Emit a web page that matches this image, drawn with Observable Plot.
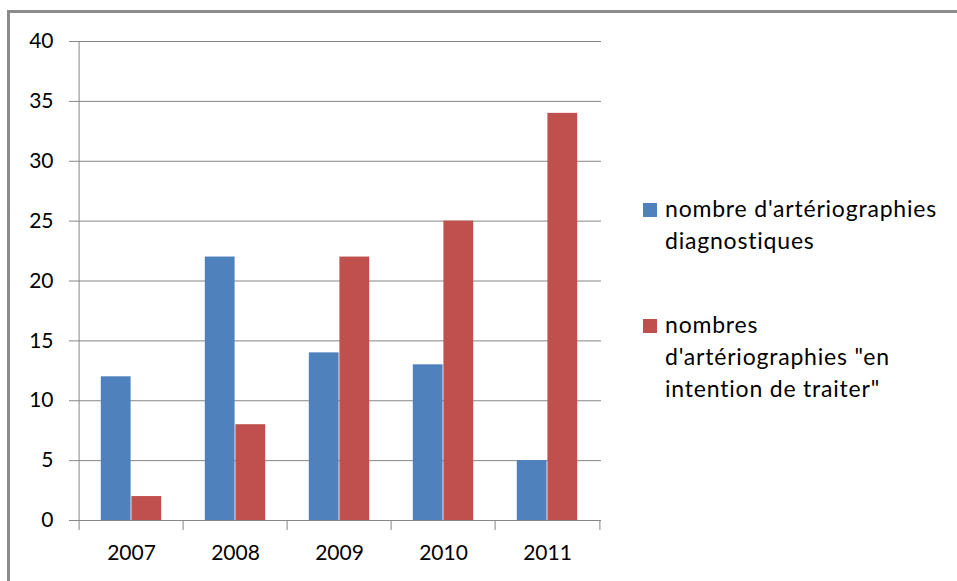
<!DOCTYPE html>
<html>
<head>
<meta charset="utf-8">
<script src="https://cdn.jsdelivr.net/npm/d3@7"></script>
<script src="https://cdn.jsdelivr.net/npm/@observablehq/plot@0.6"></script>
<style>
  html, body { margin: 0; padding: 0; background: #fff; overflow: hidden; }
  #wrap { position: relative; width: 957px; height: 581px; overflow: hidden; font-family: Lato, "Open Sans", sans-serif; }
  #frame { position: absolute; left: 7px; top: 10px; width: 1200px; height: 1000px; border: 3px solid #8c8c8c; box-sizing: border-box; pointer-events: none; }
  #chart { position: absolute; left: 0; top: 0; }
  .legend { position: absolute; left: 643px; font-size: 23px; letter-spacing: 0.8px; color: #000; line-height: 32px; }
  .item { position: absolute; left: 0; width: 300px; }
  .sw { position: absolute; left: 0; width: 14px; height: 14px; }
  .txt { position: absolute; left: 22px; white-space: nowrap; }
</style>
</head>
<body>
<div id="wrap">
  <div id="frame"></div>
  <div id="chart"></div>
  <div class="legend" id="legend"></div>
</div>
<script>
const years = ["2007", "2008", "2009", "2010", "2011"];
const diagnostiques = [12, 22, 14, 13, 5];
const intention = [2, 8, 22, 25, 34];
const seriesNames = ["nombre d'artériographies\ndiagnostiques", "nombres\nd'artériographies \"en\nintention de traiter\""];
const colors = ["#4f81bd", "#c0504d"];
const yTicks = [0, 5, 10, 15, 20, 25, 30, 35, 40];

const W = 957, H = 581;
const mL = 77, mR = 356, mT = 41, mB = 61;
const bw = (W - mL - mR) / years.length;
const outer = bw * 0.208;
const barW = (bw - 2 * outer) / 2;

const rowsA = years.map((y, i) => ({year: y, value: diagnostiques[i]}));
const rowsB = years.map((y, i) => ({year: y, value: intention[i]}));
const gray = "#868686";

const plot = Plot.plot({
  width: W,
  height: H,
  marginLeft: mL,
  marginRight: mR,
  marginTop: mT,
  marginBottom: mB,
  style: {fontFamily: "Lato, 'Open Sans', sans-serif", fontSize: "21px", color: "#000", background: "transparent"},
  x: {domain: years, type: "band", padding: 0, label: null},
  y: {domain: [0, 40], label: null},
  marks: [
    Plot.gridY(yTicks, {stroke: gray, strokeOpacity: 1}),
    Plot.axisY(yTicks, {tickSize: 8, tickPadding: 16, stroke: gray, fill: "#000", label: null, fontSize: 21}),
    Plot.axisX({tickSize: 0, tickPadding: 25, fill: "#000", label: null, fontSize: 21}),
    Plot.barY(rowsA, {x: "year", y: "value", fill: colors[0], insetLeft: outer, insetRight: outer + barW}),
    Plot.barY(rowsB, {x: "year", y: "value", fill: colors[1], insetLeft: outer + barW, insetRight: outer}),
    Plot.ruleY([0], {stroke: gray}),
    Plot.ruleX(years, {x: d => d, dx: -bw / 2, y1: 0, y2: d => d === years[0] ? 40 : 0, insetTop: 10, stroke: gray}),
    Plot.ruleX([years[years.length - 1]], {x: d => d, dx: bw / 2, y1: 0, y2: 0, insetTop: 10, stroke: gray})
  ]
});
document.getElementById("chart").appendChild(plot);

const legend = document.getElementById("legend");
const tops = [192, 308];
seriesNames.forEach((name, i) => {
  const item = document.createElement("div");
  item.className = "item";
  item.style.top = tops[i] + "px";
  const sw = document.createElement("div");
  sw.className = "sw";
  sw.style.background = colors[i];
  sw.style.top = "11px";
  const t = document.createElement("div");
  t.className = "txt";
  t.innerHTML = name.split("\n").map(s => s.replace(/&/g, "&amp;").replace(/</g, "&lt;")).join("<br>");
  item.appendChild(sw);
  item.appendChild(t);
  legend.appendChild(item);
});
</script>
</body>
</html>
